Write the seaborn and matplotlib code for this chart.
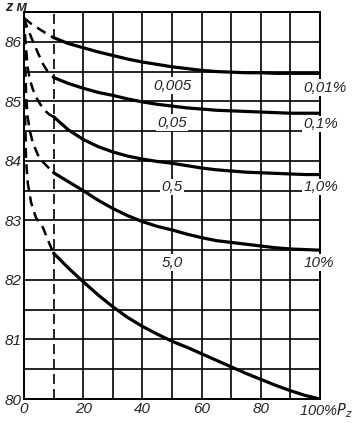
import numpy as np
import pandas as pd
import seaborn as sns
import matplotlib.pyplot as plt

# solid part of the curves, x = 10..100 % P_z
x_solid = [10, 15, 20, 25, 30, 35, 40, 45, 50, 55, 60, 65, 70, 75, 80, 85, 90, 95, 100]
z_001 = [86.07, 85.97, 85.9, 85.83, 85.77, 85.71, 85.66, 85.62, 85.58, 85.55,
         85.52, 85.5, 85.49, 85.48, 85.48, 85.47, 85.47, 85.47, 85.47]
z_01 = [85.4, 85.3, 85.22, 85.15, 85.1, 85.04, 84.99, 84.95, 84.92, 84.89,
        84.87, 84.85, 84.84, 84.83, 84.82, 84.81, 84.8, 84.8, 84.8]
z_1 = [84.74, 84.52, 84.36, 84.24, 84.15, 84.08, 84.03, 83.99, 83.96, 83.92,
       83.88, 83.85, 83.83, 83.81, 83.8, 83.79, 83.78, 83.77, 83.77]
z_10 = [83.8, 83.65, 83.5, 83.34, 83.2, 83.08, 82.98, 82.9, 82.84, 82.77,
        82.71, 82.66, 82.63, 82.6, 82.57, 82.54, 82.52, 82.51, 82.5]
z_100 = [82.45, 82.2, 81.97, 81.75, 81.55, 81.37, 81.22, 81.09, 80.97, 80.87,
         80.76, 80.65, 80.54, 80.43, 80.33, 80.23, 80.14, 80.06, 80.0]

# dashed part, x = 0..10
xd_001 = [0, 2.5, 5, 7.5, 10]
zd_001 = [86.4, 86.3, 86.22, 86.14, 86.07]
xd_01 = [0, 1, 2.4, 3.7, 5, 6.5, 8, 10]
zd_01 = [86.4, 86.25, 86.08, 85.93, 85.78, 85.62, 85.5, 85.4]
xd_1 = [0, 0.5, 1.3, 2, 3, 4.2, 5.5, 7, 8.5, 10]
zd_1 = [86.4, 86.0, 85.55, 85.36, 85.2, 85.06, 84.95, 84.85, 84.78, 84.74]
xd_10 = [0, 0.3, 0.7, 1.2, 2, 3, 4.7, 6, 8, 10]
zd_10 = [86.4, 85.8, 85.15, 84.75, 84.5, 84.3, 84.1, 84.0, 83.9, 83.8]
xd_100 = [0, 0.2, 0.4, 0.7, 1.3, 2.4, 4, 6.4, 8, 9.1, 10]
zd_100 = [86.4, 85.5, 84.7, 84.0, 83.62, 83.3, 83.05, 82.88, 82.68, 82.55, 82.45]

left_labels = ["0,005", "0,05", "0,5", "5,0"]
left_z = [85.26, 84.64, 83.56, 82.29]
right_labels = ["0,01%", "0,1%", "1,0%", "10%"]
right_z = [85.23, 84.62, 83.56, 82.29]

sns.set_style("white")
plt.rcParams['font.family'] = ['Liberation Sans', 'DejaVu Sans']
plt.rcParams['font.style'] = 'italic'

fig = plt.figure(figsize=(3.56, 4.23), dpi=100)
ax = fig.add_axes([0.0674, 0.0567, 0.8315, 0.9149])

# grid
for y in np.arange(80.5, 86.5, 0.5):
    ax.axhline(y, color="black", lw=1.2, zorder=1)
for x in [20, 30, 40, 50, 60, 70, 80, 90]:
    ax.axvline(x, color="black", lw=1.2, zorder=1)
ax.axvline(10, color="black", lw=1.2, ls=(0, (6, 3)), zorder=1)

solid = [z_001, z_01, z_1, z_10, z_100]
dashed = [(xd_001, zd_001), (xd_01, zd_01), (xd_1, zd_1), (xd_10, zd_10), (xd_100, zd_100)]
for zs in solid:
    df = pd.DataFrame({"x": x_solid, "z": zs})
    sns.lineplot(data=df, x="x", y="z", color="black", lw=2.3, ax=ax,
                 estimator=None, sort=False, zorder=3)
for xs, zs in dashed:
    df = pd.DataFrame({"x": xs, "z": zs})
    sns.lineplot(data=df, x="x", y="z", color="black", lw=1.8, ax=ax,
                 estimator=None, sort=False, zorder=3, dashes=False,
                 linestyle=(0, (4, 2.5)))

for lab, z in zip(left_labels, left_z):
    ax.text(50, z, lab, ha="center", va="center", fontsize=11, zorder=4,
            bbox=dict(facecolor="white", edgecolor="none", pad=1))
for lab, z in zip(right_labels, right_z):
    ax.text(94.3, z, lab, ha="left", va="center", fontsize=11, zorder=4,
            clip_on=False,
            bbox=dict(facecolor="white", edgecolor="none", pad=1))

ax.set_xlim(0, 100)
ax.set_ylim(80, 86.5)
ax.set_xticks([0, 20, 40, 60, 80])
ax.set_xticklabels(["0", "20", "40", "60", "80"], fontsize=11)
ax.set_yticks([80, 81, 82, 83, 84, 85, 86])
ax.set_yticklabels(["80", "81", "82", "83", "84", "85", "86"], fontsize=11)
ax.tick_params(length=0, pad=2)
ax.set_xlabel("")
ax.set_ylabel("")
ax.text(93.0, 79.8, "100%$P_z$", ha="left", va="center", fontsize=10.5, clip_on=False)
ax.text(-6.5, 86.58, "z м", ha="left", va="center", fontsize=10.5, clip_on=False,
        fontweight="bold")

for s in ax.spines.values():
    s.set_color("black")
    s.set_linewidth(1.4)

fig.savefig("out.png", dpi=100)
